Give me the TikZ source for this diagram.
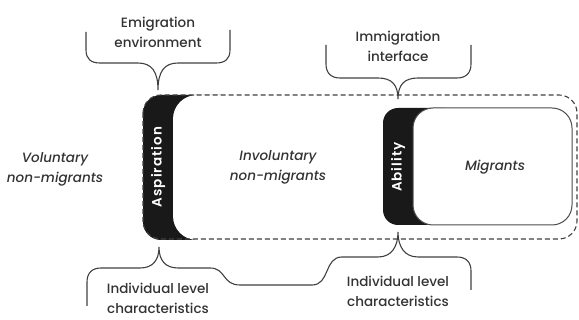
\documentclass[tikz,border=0pt]{standalone}
\usepackage{fontspec}
\setmainfont{Poppins}[UprightFont={* Medium}, ItalicFont={* Medium Italic}, BoldFont={* SemiBold}]
\usetikzlibrary{positioning}

\begin{document}
\begin{tikzpicture}[x=1pt, y=-1pt,
    brace/.style = {draw=black!75, line width=1.1pt},
    label/.style = {align=center, text=black!80, font=\fontsize{13.5}{20}\selectfont},
    group/.style = {align=center, text=black!80, font=\fontsize{13.5}{20}\selectfont\itshape},
    bar/.style = {text=white, rotate=90, font=\fontsize{13.5}{16}\selectfont\bfseries\addfontfeature{LetterSpace=8}}]
  \useasboundingbox (0,0) rectangle (579,320);
  % aspiration bar and dashed frame
  \fill[black!90, rounded corners=18] (143,95) rectangle (240,240);
  \fill[white, rounded corners=24] (173,95) rectangle (320,240);
  \draw[black!75, line width=1.1pt, dash pattern=on 5pt off 3pt, rounded corners=18] (143,95) rectangle (577,239);
  % ability bar and migrants box
  \fill[black!90, rounded corners=15] (383,108) rectangle (460,225);
  \draw[black!70, line width=1pt, fill=white, rounded corners=20] (413,108) rectangle (572,225);

  \node[bar] (asp) at (158,167) {Aspiration};
  \node[bar] (abil) at (398,167) {Ability};
  \node[group] (vol) at (55,169) {Voluntary\\non-migrants};
  \node[group] (invol) at (278,167) {Involuntary\\non-migrants};
  \node[group] (migr) at (495,167) {Migrants};
  \node[label] (emig) at (158,32) {Emigration\\environment};
  \node[label] (immig) at (398,46) {Immigration\\interface};
  \node[label] (indivL) at (158,298) {Individual level\\characteristics};
  \node[label] (indivR) at (398,291) {Individual level\\characteristics};

  % braces
  \draw[brace] (86,32) -- (86,50) .. controls (86,59) and (91,63) .. (100,63) -- (138,63)
    .. controls (152,63) and (158,72) .. (158,90) .. controls (158,72) and (164,63) .. (178,63)
    -- (216,63) .. controls (225,63) and (230,59) .. (230,50) -- (230,30);
  \draw[brace] (326,45) -- (326,64) .. controls (326,73) and (331,78) .. (340,78) -- (378,78)
    .. controls (392,78) and (398,85) .. (398,99) .. controls (398,85) and (404,78) .. (418,78)
    -- (457,78) .. controls (466,78) and (471,73) .. (471,64) -- (471,45);
  \draw[brace] (87,306) -- (87,282) .. controls (87,273) and (92,268) .. (101,268) -- (140,268)
    .. controls (153,268) and (159,260) .. (159,247) .. controls (159,260) and (165,268) .. (178,268)
    -- (210,268) .. controls (226,268) and (222,285) .. (240,285) -- (312,285)
    .. controls (330,285) and (324,257) .. (342,257) -- (378,257)
    .. controls (392,257) and (398,246) .. (398,232) .. controls (398,246) and (404,257) .. (418,257)
    -- (457,257) .. controls (466,257) and (471,262) .. (471,271) -- (471,290);
\end{tikzpicture}
\end{document}
